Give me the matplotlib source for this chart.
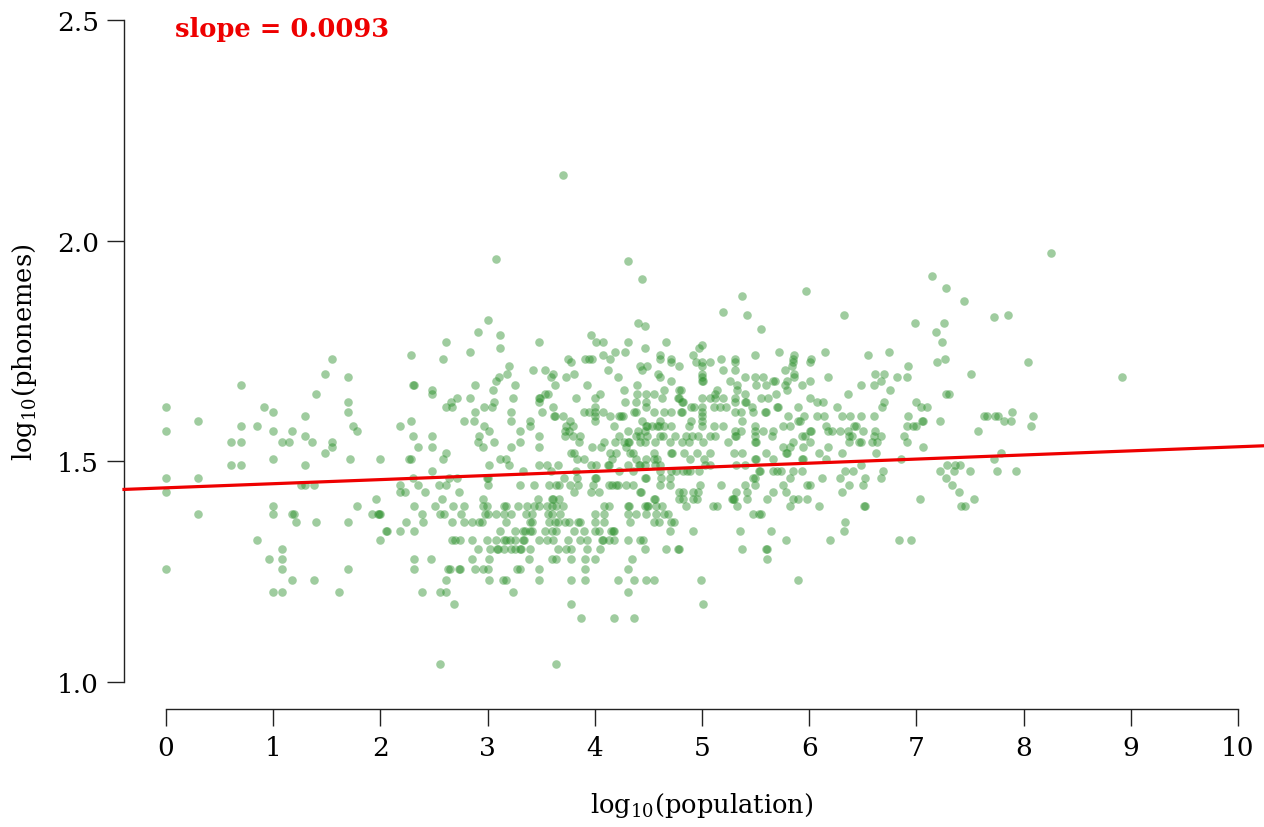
import numpy as np
import matplotlib
matplotlib.use("Agg")
import matplotlib.pyplot as plt

# phoneme inventory size (rows) and log10(population) of the languages in each row
row_phonemes = [11, 14, 15, 16, 17, 18, 19, 20, 21, 22, 23, 24, 25, 26, 27, 28, 29, 30,
                31, 32, 33, 34, 35, 36, 37, 38, 39, 40, 41, 42, 43, 44, 45, 46, 47, 48,
                49, 50, 51, 52, 53, 54, 55, 56, 57, 58, 59, 61, 62, 63, 64, 65, 66, 67,
                68, 69, 73, 75, 77, 78, 82, 83, 90, 91, 94, 141]

row_log_population = [
    [2.56, 3.64],
    [3.87, 4.18, 4.37],
    [2.69, 3.78, 5.01],
    [1.00, 1.08, 1.61, 2.39, 2.56, 2.61, 3.24, 4.31],
    [1.18, 1.38, 2.61, 3.01, 3.14, 3.17, 3.48, 3.78, 3.91, 4.22, 4.37, 4.48, 4.55, 4.99, 5.90],
    [0.00, 1.08, 1.70, 2.31, 2.63, 2.65, 2.73, 2.74, 2.88, 2.96, 3.00, 3.27, 3.30, 3.48, 3.91, 4.31],
    [0.96, 1.08, 2.31, 2.47, 2.85, 3.01, 3.39, 3.60, 3.64, 3.78, 3.91, 4.00, 4.35, 5.61],
    [1.08, 2.91, 3.02, 3.09, 3.10, 3.15, 3.22, 3.26, 3.30, 3.31, 3.40, 3.66, 3.73, 3.78, 3.93,
     4.05, 4.47, 4.66, 4.78, 4.79, 5.37, 5.60, 5.61],
    [0.85, 2.00, 2.67, 2.70, 2.74, 2.85, 2.99, 3.08, 3.15, 3.17, 3.21, 3.26, 3.33, 3.34, 3.48,
     3.55, 3.61, 3.75, 3.86, 3.93, 4.07, 4.08, 4.13, 4.18, 4.31, 4.42, 4.45, 5.78, 6.19, 6.84, 6.95],
    [2.05, 2.06, 2.18, 2.31, 3.12, 3.26, 3.33, 3.35, 3.40, 3.41, 3.54, 3.60, 3.64, 3.81, 3.90,
     4.00, 4.04, 4.15, 4.17, 4.18, 4.70, 4.92, 5.35, 5.64, 6.32],
    [1.21, 1.40, 1.70, 2.24, 2.40, 2.67, 2.78, 2.85, 2.92, 2.95, 3.17, 3.40, 3.41, 3.57, 3.63,
     3.66, 3.72, 3.76, 3.84, 3.86, 4.00, 4.09, 4.33, 4.55, 4.60, 4.71, 4.74, 6.33],
    [0.30, 1.00, 1.18, 1.19, 1.92, 1.98, 1.99, 2.00, 2.39, 2.56, 2.59, 2.75, 2.98, 3.00, 3.08,
     3.15, 3.22, 3.36, 3.41, 3.56, 3.60, 3.68, 4.00, 4.09, 4.31, 4.38, 4.48, 4.57, 4.65, 4.68,
     5.48, 5.53, 5.55],
    [1.00, 1.78, 2.31, 2.51, 2.68, 2.78, 2.96, 2.99, 3.15, 3.17, 3.28, 3.37, 3.43, 3.48, 3.55,
     3.60, 3.64, 3.70, 4.09, 4.13, 4.31, 4.32, 4.47, 4.49, 4.50, 4.57, 4.63, 4.85, 5.10, 5.14,
     5.33, 5.82, 6.09, 6.51, 6.52, 7.42, 7.45],
    [1.96, 2.57, 2.96, 3.47, 3.60, 3.61, 3.67, 4.55, 4.56, 4.79, 4.82, 4.92, 4.95, 5.28, 5.29,
     5.30, 5.42, 5.61, 5.85, 5.90, 5.98, 7.03, 7.54],
    [0.00, 2.18, 2.23, 2.42, 2.73, 3.81, 3.96, 4.04, 4.42, 4.43, 4.79, 4.82, 4.92, 4.96, 5.32,
     5.42, 5.66, 5.78, 6.31, 7.40],
    [1.26, 1.30, 1.38, 2.18, 2.35, 2.55, 2.61, 3.00, 3.30, 3.43, 3.57, 3.64, 3.67, 3.77, 3.84,
     3.98, 4.13, 4.16, 4.20, 4.22, 4.29, 4.36, 4.61, 4.70, 4.98, 5.18, 5.40, 5.49, 5.76, 5.98,
     6.01, 6.37, 6.50, 7.33],
    [0.00, 0.30, 2.30, 2.64, 2.71, 2.99, 3.00, 3.71, 3.83, 4.00, 4.01, 4.47, 4.48, 4.62, 4.70,
     5.48, 5.49, 5.82, 6.12, 6.29, 6.52, 6.67, 7.28],
    [2.48, 3.33, 3.59, 3.82, 4.23, 4.36, 4.61, 4.71, 4.76, 4.82, 4.86, 4.89, 4.97, 5.53, 5.54,
     5.66, 5.70, 5.74, 5.85, 5.93, 6.33, 6.41, 6.69, 7.22, 7.35, 7.50, 7.75, 7.93],
    [0.61, 0.70, 1.30, 3.01, 3.20, 3.48, 3.55, 3.66, 3.96, 4.01, 4.12, 4.13, 4.31, 4.41, 4.42,
     4.47, 4.56, 4.61, 5.03, 5.07, 5.32, 5.40, 6.48, 7.29, 7.36, 7.41],
    [1.00, 1.72, 2.00, 2.27, 2.29, 2.58, 3.12, 3.17, 3.83, 3.90, 4.16, 4.38, 4.48, 4.55, 4.58,
     4.89, 5.02, 5.49, 5.50, 5.66, 5.93, 5.94, 6.16, 6.86, 7.72],
    [1.48, 2.61, 3.78, 3.81, 4.14, 4.20, 4.33, 4.36, 4.55, 4.71, 4.72, 4.83, 4.95, 5.07, 5.30,
     5.37, 5.60, 5.78, 5.79, 6.09, 6.31, 6.62, 7.79],
    [1.55, 2.35, 2.48, 2.96, 3.22, 3.48, 3.97, 4.06, 4.29, 5.76, 5.82, 5.94, 6.18, 7.06],
    [0.61, 0.70, 1.08, 1.15, 1.36, 1.55, 2.91, 3.06, 3.30, 3.85, 4.09, 4.19, 4.27, 4.31, 4.32,
     4.42, 4.47, 4.56, 4.70, 4.81, 4.88, 5.01, 5.24, 5.49, 5.50, 5.85, 6.01, 6.37, 6.46, 6.48,
     6.59, 6.63, 6.91],
    [1.30, 2.30, 2.48, 2.92, 3.48, 3.72, 3.80, 3.86, 4.23, 4.38, 4.42, 4.49, 4.61, 4.64, 4.75,
     4.85, 4.91, 4.96, 5.07, 5.12, 5.31, 5.32, 5.49, 5.65, 5.93, 5.96, 6.37, 6.40, 6.60, 6.67, 6.88],
    [0.00, 1.00, 1.18, 1.78, 3.01, 3.30, 3.72, 3.76, 4.31, 4.40, 4.47, 5.31, 5.36, 5.49, 5.57,
     5.66, 6.01, 6.02, 6.18, 6.21, 6.29, 6.36, 6.50, 6.61, 7.57],
    [0.70, 0.85, 1.74, 2.18, 2.97, 3.40, 3.73, 3.80, 4.18, 4.48, 4.49, 4.53, 4.58, 4.60, 4.65,
     4.71, 4.88, 5.00, 5.11, 5.20, 5.49, 5.76, 5.82, 6.16, 6.42, 6.44, 6.91, 6.97, 7.00, 8.07],
    [0.30, 2.29, 2.78, 2.87, 3.22, 3.40, 3.77, 4.00, 4.44, 4.61, 4.90, 5.00, 5.37, 5.90, 5.91,
     7.05, 7.06, 7.22, 7.82, 7.88],
    [1.30, 3.62, 3.63, 3.70, 4.00, 4.14, 4.23, 4.24, 4.26, 5.00, 5.80, 5.95, 6.07, 6.14, 6.31,
     6.38, 6.48, 6.60, 6.92, 7.63, 7.66, 7.73, 7.76, 8.09],
    [1.00, 1.70, 2.88, 3.22, 3.51, 3.90, 3.95, 4.00, 4.08, 4.37, 4.38, 4.55, 4.65, 4.71, 4.80,
     4.81, 5.00, 5.31, 5.36, 5.48, 5.59, 5.60, 7.89],
    [0.00, 0.91, 2.61, 2.67, 2.97, 3.04, 3.61, 4.00, 4.48, 4.90, 4.93, 5.00, 5.11, 5.17, 5.22,
     5.47, 5.70, 5.71, 5.90, 6.26, 6.68, 7.04, 7.10],
    [1.70, 2.66, 3.06, 3.48, 4.28, 4.38, 4.48, 4.81, 4.82, 5.31, 5.40, 5.41, 6.07, 6.13, 6.70, 7.00],
    [2.71, 2.84, 3.24, 3.48, 3.49, 3.82, 4.00, 4.63, 4.78, 4.79, 5.00, 5.07, 5.12, 5.20, 5.31,
     5.55, 5.62, 6.01],
    [1.40, 2.48, 3.54, 3.56, 4.05, 4.39, 4.48, 4.55, 5.12, 5.40, 5.69, 6.36, 7.28, 7.30],
    [2.48, 3.05, 4.27, 4.65, 4.79, 4.80, 5.14, 5.33, 5.79, 6.75],
    [0.70, 2.30, 2.31, 2.88, 3.26, 3.63, 3.93, 4.39, 5.33, 5.50, 5.60, 5.77, 5.93, 6.48, 6.60],
    [3.08, 4.71, 5.00, 5.01, 5.26, 5.66, 5.68, 5.79, 6.01, 6.67],
    [1.70, 3.11, 3.59, 3.73, 4.22, 4.61, 5.00, 5.40, 5.49, 5.57, 5.86, 6.18, 6.82, 6.91, 8.92],
    [1.48, 3.18, 3.61, 3.81, 4.59, 5.00, 5.86, 6.61, 6.70, 7.51],
    [3.42, 3.54, 4.12, 4.44, 5.20, 5.31, 5.77],
    [3.20, 4.42, 4.49, 4.79, 5.00, 5.84, 6.92],
    [3.78, 4.71, 4.94, 5.00, 5.07, 5.31, 5.85, 6.01, 7.19, 8.04],
    [1.55, 2.58, 3.75, 3.91, 3.95, 3.97, 4.14, 4.61, 4.71, 5.18, 5.31, 5.85, 6.02, 7.27],
    [2.29, 4.08, 4.61, 4.92, 5.49, 5.86, 6.55],
    [2.84, 4.19, 4.28, 5.72, 6.15, 6.74],
    [3.12, 4.47, 4.97],
    [5.00],
    [2.61, 3.48, 4.01, 4.08, 4.31, 4.66, 7.24],
    [3.12, 3.96],
    [2.91, 7.18],
    [5.55],
    [4.47],
    [4.40, 6.99, 7.26],
    [3.00],
    [7.72],
    [5.42, 6.32, 7.85],
    [5.20],
    [7.44],
    [5.37],
    [5.97],
    [7.28],
    [4.44],
    [7.15],
    [4.31],
    [3.08],
    [8.26],
    [3.70],
]

# fitted regression line
fit_slope = 0.0093
fit_intercept = 1.440

x_ticks = [0, 1, 2, 3, 4, 5, 6, 7, 8, 9, 10]
y_ticks = [1.0, 1.5, 2.0, 2.5]
y_tick_labels = ["1.0", "1.5", "2.0", "2.5"]

log_pop = np.concatenate([np.array(r, dtype=float) for r in row_log_population])
log_phon = np.concatenate([np.full(len(r), np.log10(n)) for n, r in zip(row_phonemes, row_log_population)])

plt.rcParams["font.family"] = ["DejaVu Serif"]
plt.rcParams["mathtext.fontset"] = "dejavuserif"

W, H = 1264, 828
fig = plt.figure(figsize=(W / 100, H / 100), dpi=100)
ax = fig.add_axes([124 / W, (H - 710) / H, (W - 124) / W, (710 - 21) / H])

x_lo, x_hi = (124 - 166) / 107.2, (W - 166) / 107.2
y_lo = 1.0 - (710 - 683) / 441.3
ax.set_xlim(x_lo, x_hi)
ax.set_ylim(y_lo, 2.5)

ax.scatter(log_pop, log_phon, s=38, color="#2a8f2a", alpha=0.45, linewidths=0, zorder=2)
xx = np.array([x_lo, x_hi])
ax.plot(xx, fit_intercept + fit_slope * xx, color="#ee0000", lw=2.3, zorder=3, clip_on=False)

for s in ["top", "right"]:
    ax.spines[s].set_visible(False)
ax.spines["left"].set_bounds(1.0, 2.5)
ax.spines["bottom"].set_bounds(0, 10)
for s in ["left", "bottom"]:
    ax.spines[s].set_linewidth(1.0)
    ax.spines[s].set_color("#222222")

ax.set_xticks(x_ticks)
ax.set_xticklabels([str(t) for t in x_ticks])
ax.set_yticks(y_ticks)
ax.set_yticklabels(y_tick_labels)
ax.tick_params(axis="both", direction="out", length=12, width=1.0, colors="#222222",
               labelsize=19, labelcolor="black")
ax.tick_params(axis="x", pad=7)
ax.tick_params(axis="y", pad=6)

# axis labels centred on the trimmed spines
fig.text(702 / W, 1 - 806 / H, r"log$_{10}$(population)", fontsize=18.5,
         ha="center", va="center")
fig.text(25 / W, 1 - 352 / H, r"log$_{10}$(phonemes)", fontsize=18.5,
         ha="center", va="center", rotation=90)

fig.text(175 / W, 1 - 30 / H, "slope = 0.0093", color="#ee0000", fontsize=18.5,
         fontweight="bold", va="center", ha="left")

fig.savefig("out.png", dpi=100)
